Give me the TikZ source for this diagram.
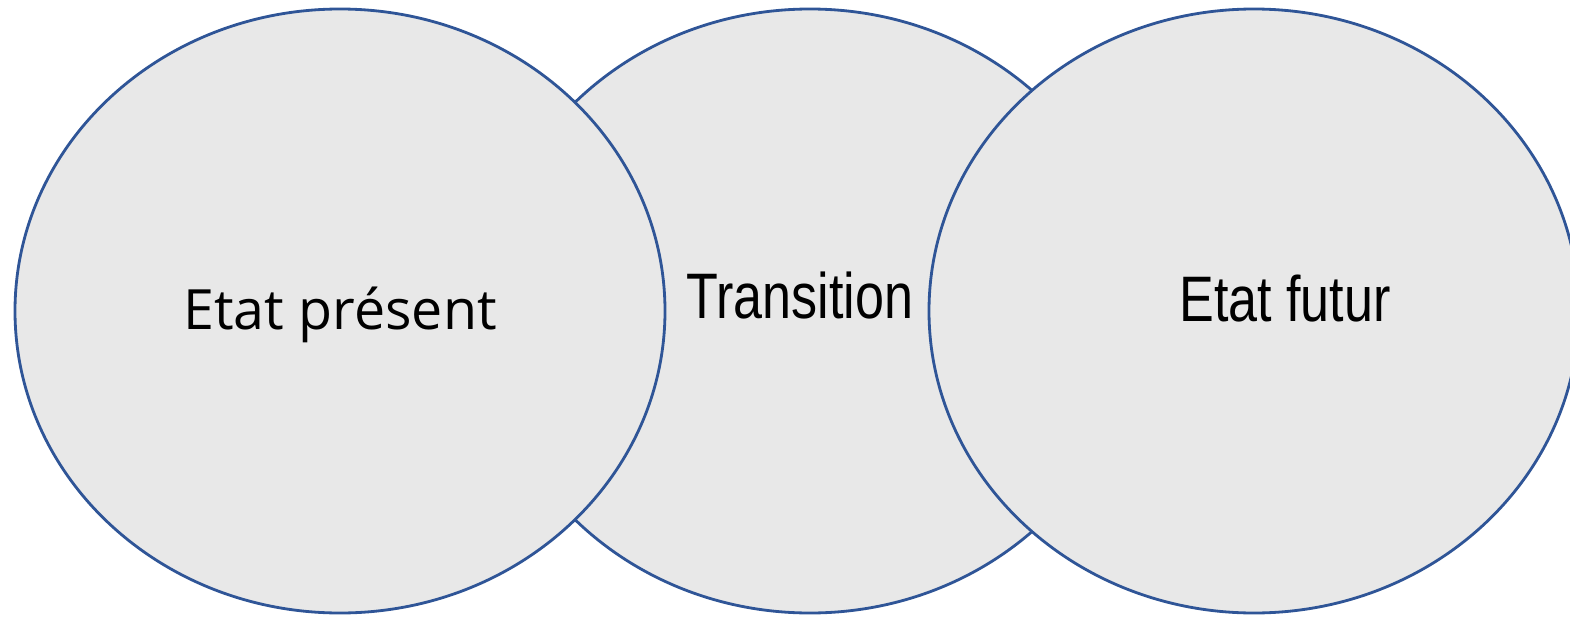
\documentclass[tikz,border=0pt]{standalone}
\usepackage{fontspec}
\setmainfont{Liberation Sans}
\newfontfamily\segoe{Open Sans}
\usetikzlibrary{shapes.geometric,positioning}
\definecolor{bordbleu}{RGB}{47,85,151}
\definecolor{fondgris}{RGB}{232,232,232}
\begin{document}
\begin{tikzpicture}[x=1cm,y=1cm]
			\tikzset{etat/.style={ellipse,draw=bordbleu,fill=fondgris,line width=0.8pt,minimum width=6.5cm,minimum height=6.04cm,inner sep=0pt},
				etiquette/.style={font=\fontsize{18.3}{20}\selectfont,xscale=0.81}}
			\useasboundingbox (0,0) rectangle (15.70,6.17);
			\clip (0,0) rectangle (15.70,6.17);
			% ellipse du milieu en dessous
			\node[etat] (transition) at (8.10,3.06) {};
			\node[etat] (present) at (3.40,3.06) {};
			\node[etat] (futur) at (12.54,3.06) {};
			\node[font=\segoe\fontsize{15.8}{18}\selectfont] (tpresent) at ([yshift=-0.04cm]present.center) {Etat présent};
			\node[etiquette] (ttransition) at ([xshift=-0.10cm,yshift=0.15cm]transition.center) {Transition};
			\node[etiquette] (tfutur) at ([xshift=0.31cm,yshift=0.12cm]futur.center) {Etat futur};
		\end{tikzpicture}
\end{document}
